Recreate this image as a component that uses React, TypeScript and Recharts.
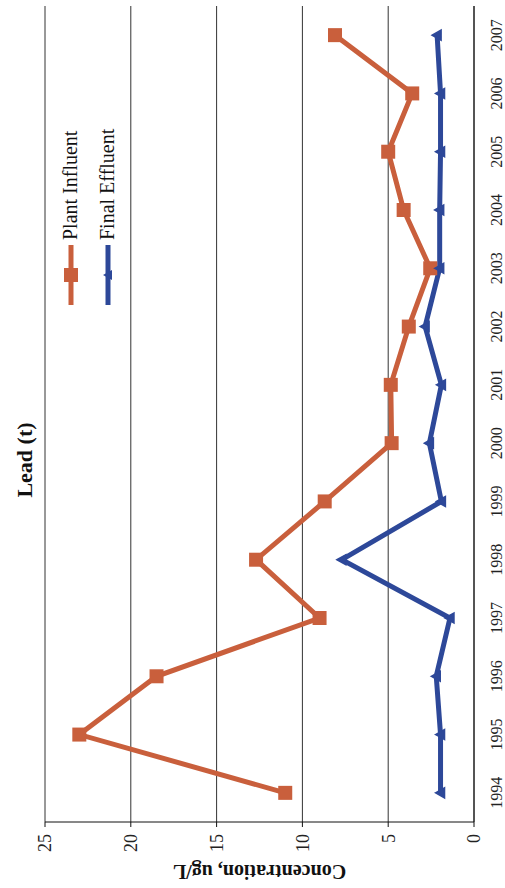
import { CartesianGrid, Legend, Line, LineChart, XAxis, YAxis } from "recharts"

const years = [1994, 1995, 1996, 1997, 1998, 1999, 2000, 2001, 2002, 2003, 2004, 2005, 2006, 2007]
const plantInfluent = [11.0, 23.0, 18.5, 9.0, 12.7, 8.7, 4.8, 4.85, 3.8, 2.55, 4.1, 5.0, 3.6, 8.1]
const finalEffluent = [1.95, 1.95, 2.2, 1.4, 7.7, 1.9, 2.6, 1.9, 2.85, 2.0, 2.0, 1.95, 1.95, 2.15]
const concentrationTicks = [0, 5, 10, 15, 20, 25]
const seriesOrder = ["plant", "effluent"]

const data = years.map((year, i) => ({
  year,
  plant: plantInfluent[i],
  effluent: finalEffluent[i],
}))

// tick marks sit between the years, labels sit on them (Excel category axis look)
const yearEdges = [...years.map((y) => y - 0.5), years[years.length - 1] + 0.5]
const yearDomain = [yearEdges[0], yearEdges[yearEdges.length - 1]]

const SERIF = '"Liberation Serif", "Times New Roman", serif'
const ORANGE = "#C95F3C"
const BLUE = "#2D4899"
const INK = "#111"

// chart is drawn landscape, then turned a quarter left like the printed page
const W = 888
const H = 505

const SquareDot = (props: any) => {
  const { cx, cy, index } = props
  if (cx == null || cy == null) return null
  return <rect key={`sq-${index}`} x={cx - 7} y={cy - 7} width={14} height={14} fill={ORANGE} />
}

const TriangleDot = (props: any) => {
  const { cx, cy, index } = props
  if (cx == null || cy == null) return null
  return (
    <path
      key={`tri-${index}`}
      d={`M${cx},${cy - 5} L${cx + 5},${cy + 4} L${cx - 5},${cy + 4} Z`}
      fill={BLUE}
      stroke={BLUE}
      strokeWidth={1.5}
    />
  )
}

const renderLegend = ({ payload }: any) => {
  const items = [...(payload || [])].sort(
    (a: any, b: any) => seriesOrder.indexOf(a.dataKey) - seriesOrder.indexOf(b.dataKey)
  )
  return (
    <div style={{ fontFamily: SERIF, fontSize: 20, color: INK }}>
      {items.map((entry: any) => (
        <div key={entry.value} style={{ display: "flex", alignItems: "center", height: 37 }}>
          <svg width={64} height={20} style={{ marginRight: 4 }}>
            <line x1={3} y1={10} x2={63} y2={10} stroke={entry.color} strokeWidth={5} />
            {entry.dataKey === "plant" ? (
              <rect x={26} y={3} width={14} height={14} fill={ORANGE} />
            ) : (
              <path d="M33,5 L38,14 L28,14 Z" fill={BLUE} />
            )}
          </svg>
          <span>{entry.value}</span>
        </div>
      ))}
    </div>
  )
}

export default function App() {
  return (
    <div style={{ position: "absolute", left: 0, top: 0, width: 505, height: 888, background: "#fff", overflow: "hidden" }}>
      <div
        style={{
          position: "absolute",
          left: 0,
          top: 0,
          width: W,
          height: H,
          transformOrigin: "0 0",
          transform: `translateY(${W}px) rotate(-90deg)`,
        }}
      >
        <div
          style={{
            position: "absolute",
            left: 0,
            top: 12,
            width: 856,
            textAlign: "center",
            fontFamily: SERIF,
            fontSize: 22,
            fontWeight: 700,
            lineHeight: "26px",
            color: INK,
          }}
        >
          Lead (t)
        </div>
        <LineChart width={W} height={H} data={data} margin={{ top: 45, right: 6, bottom: 0, left: 0 }}>
          <CartesianGrid vertical={false} stroke="#333" strokeWidth={1} />
          <XAxis
            xAxisId="edges"
            dataKey="year"
            type="number"
            domain={yearDomain}
            ticks={yearEdges}
            tick={false}
            tickSize={5}
            tickLine={{ stroke: INK }}
            axisLine={false}
            height={0}
            allowDataOverflow
          />
          <XAxis
            dataKey="year"
            type="number"
            domain={yearDomain}
            ticks={years}
            tickLine={false}
            tickSize={0}
            tickMargin={17}
            axisLine={{ stroke: INK }}
            height={31}
            interval={0}
            allowDataOverflow
            tick={{ fontFamily: SERIF, fontSize: 16, fill: "#222" }}
          />
          <YAxis
            domain={[0, 25]}
            ticks={concentrationTicks}
            width={66}
            tickSize={5}
            tickMargin={7}
            tickLine={{ stroke: INK }}
            axisLine={{ stroke: INK }}
            tick={{ fontFamily: SERIF, fontSize: 18, fill: "#222" }}
            label={{
              value: "Concentration, ug/L",
              angle: -90,
              position: "center",
              dx: -17,
              fontFamily: SERIF,
              fontSize: 20,
              fontWeight: 700,
              fill: INK,
            }}
          />
          <YAxis
            yAxisId="border"
            orientation="right"
            width={0}
            tick={false}
            tickLine={false}
            axisLine={{ stroke: INK }}
          />
          <Legend
            layout="horizontal"
            verticalAlign="middle"
            align="center"
            content={renderLegend}
            wrapperStyle={{ left: 580, top: 52, width: 220, height: 80 }}
          />
          <Line
            name="Plant Influent"
            dataKey="plant"
            stroke={ORANGE}
            strokeWidth={5}
            dot={SquareDot}
            activeDot={false}
            isAnimationActive={false}
          />
          <Line
            name="Final Effluent"
            dataKey="effluent"
            stroke={BLUE}
            strokeWidth={5}
            dot={TriangleDot}
            activeDot={false}
            isAnimationActive={false}
          />
        </LineChart>
      </div>
    </div>
  )
}
